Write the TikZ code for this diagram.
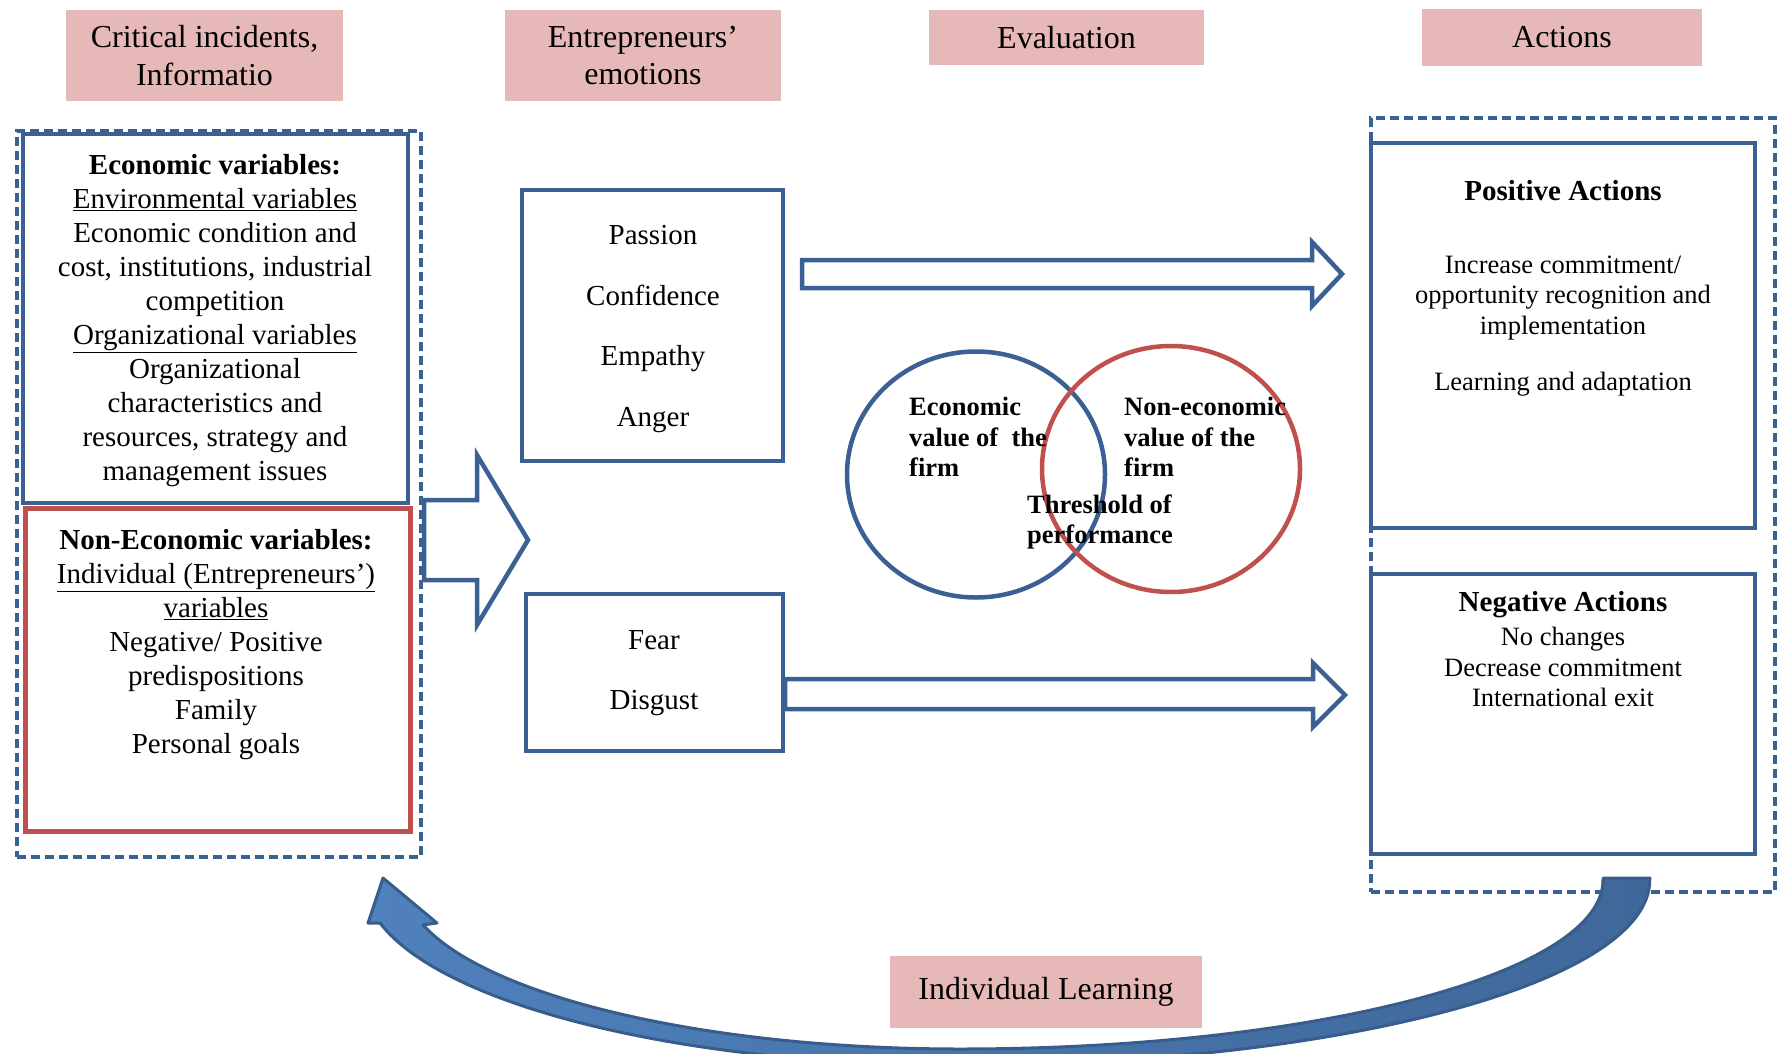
\documentclass[tikz,border=0pt]{standalone}
\usepackage{fontspec}
\usetikzlibrary{shapes.geometric}
\setmainfont{Liberation Serif}
\definecolor{bl}{HTML}{3B6194}
\definecolor{rd}{HTML}{C0504D}
\definecolor{pk}{HTML}{E6B8B7}
\definecolor{arL}{HTML}{4F81BD}
\definecolor{arR}{HTML}{3F679A}
\definecolor{arD}{HTML}{385D8A}
\begin{document}
\begin{tikzpicture}[x=1pt,y=-1pt,
  hdr/.style={fill=pk, draw=none, inner sep=0pt, align=center, font=\fontsize{32pt}{37.5pt}\selectfont},
  sbox/.style={draw=bl, line width=4.2pt, inner sep=0pt, align=center},
  rbox/.style={draw=rd, line width=5pt, inner sep=0pt},
  dbox/.style={draw=bl, line width=3.5pt, dash pattern=on 9pt off 5pt, inner sep=0pt},
  lefttxt/.style={inner sep=0pt, align=center, font=\fontsize{29pt}{34pt}\selectfont},
  emotxt/.style={font=\fontsize{29pt}{60.5pt}\selectfont},
  acttitle/.style={inner sep=0pt, font=\fontsize{29pt}{34pt}\selectfont\bfseries},
  acttxt/.style={inner sep=0pt, align=center, font=\fontsize{26.5pt}{30.5pt}\selectfont},
  venntxt/.style={inner sep=0pt, align=left, anchor=west, font=\fontsize{26.5pt}{30.5pt}\selectfont\bfseries},
  hollow/.style={draw=bl, fill=white, line width=4.5pt, line join=miter},
  ring/.style={line width=4.5pt, ellipse, inner sep=0pt}
]
\useasboundingbox (0,0) rectangle (1780,1054);
\clip (0,0) rectangle (1780,1054);

% headers
\node[hdr, minimum width=277pt, minimum height=91pt] (h1) at (204.5,55.5) {Critical incidents,\\Informatio};
\node[hdr, minimum width=276pt, minimum height=91pt] (h2) at (643,55.5) {Entrepreneurs’\\emotions};
\node[hdr, minimum width=275pt, minimum height=55pt] (h3) at (1066.5,37.5) {Evaluation};
\node[hdr, minimum width=280pt, minimum height=57pt] (h4) at (1562,37.5) {Actions};
\node[hdr, minimum width=312pt, minimum height=72pt] (il) at (1046,992) {Individual Learning};

% left group
\node[dbox, minimum width=404pt, minimum height=726pt] (ldash) at (219,494) {};
\node[sbox, minimum width=385pt, minimum height=369pt] (econ) at (215.5,318.5) {};
\node[rbox, minimum width=385pt, minimum height=323pt] (nonecon) at (217.5,669.5) {};
\node[lefttxt] (econtxt) at (215,321) {\textbf{Economic variables:}\\\underline{Environmental variables}\\Economic condition and\\cost, institutions, industrial\\competition\\\underline{Organizational variables}\\Organizational\\characteristics and\\resources, strategy and\\management issues};
\node[lefttxt] (nonecontxt) at (216,645) {\textbf{Non-Economic variables:}\\\underline{Individual (Entrepreneurs’)}\\\underline{variables}\\Negative/ Positive\\predispositions\\Family\\Personal goals};

% big arrow from left group
\draw[hollow] (424,500) -- (477,500) -- (477,455) -- (528,540) -- (477,625) -- (477,580) -- (424,580) -- cycle;

% emotions
\node[sbox, minimum width=261pt, minimum height=271pt] (emo1) at (652.5,325.5) {};
\node[sbox, minimum width=257pt, minimum height=157pt] (emo2) at (654.5,672.5) {};
\node[emotxt, align=center, inner sep=0pt] (emo1t) at (653,329) {Passion\\Confidence\\Empathy\\Anger};
\node[emotxt, align=center, inner sep=0pt] (emo2t) at (654,673) {Fear\\Disgust};

% right group
\node[dbox, minimum width=404pt, minimum height=774pt] (rdash) at (1573,505) {};
\node[sbox, fill=white, minimum width=384pt, minimum height=385pt] (pos) at (1563,335.5) {};
\node[sbox, fill=white, minimum width=384pt, minimum height=280pt] (neg) at (1563,714) {};
\node[acttitle] (postitle) at (1563,191) {Positive Actions};
\node[acttxt] (postxt) at (1563,326) {Increase commitment/\\opportunity recognition and\\implementation\\[26pt]Learning and adaptation};
\node[acttitle] (negtitle) at (1563,605) {Negative Actions};
\node[acttxt] (negtxt) at (1563,667) {No changes\\Decrease commitment\\International exit};

% hollow arrows emotions -> actions
\draw[hollow] (802,260) -- (1312,260) -- (1312,242) -- (1342,274) -- (1312,306) -- (1312,288) -- (802,288) -- cycle;
\draw[hollow] (emo2.east |- 0,679) -- (1313,679) -- (1313,663) -- (1345,695) -- (1313,727) -- (1313,709) -- (emo2.east |- 0,709) -- cycle;

% evaluation venn
\node[ring, draw=bl, minimum width=258pt, minimum height=246pt] (ecoc) at (976,474.5) {};
\node[ring, draw=rd, minimum width=258pt, minimum height=246pt] (nonc) at (1171,469) {};
\node[venntxt] (ecot) at (909,437) {Economic\\value of~~the\\firm};
\node[venntxt] (nont) at (1124,437) {Non-economic\\value of the\\firm};
\node[venntxt] (thr) at (1027,522) {Threshold of\\performance};

% feedback curved arrow (individual learning)
\shadedraw[left color=arL, right color=arR, draw=arD, line width=3pt, line join=round]
  (1603,878) -- (1603,880)
  arc[start angle=0, end angle=90, x radius=643, y radius=169]
  arc[start angle=90, end angle=164.6, x radius=557, y radius=169]
  -- (437,923) -- (383,878) -- (368,923) -- (380,923)
  arc[start angle=166.6, end angle=90, x radius=596, y radius=185]
  arc[start angle=90, end angle=0, x radius=690, y radius=185]
  -- (1650,878) -- cycle;
\end{tikzpicture}
\end{document}
